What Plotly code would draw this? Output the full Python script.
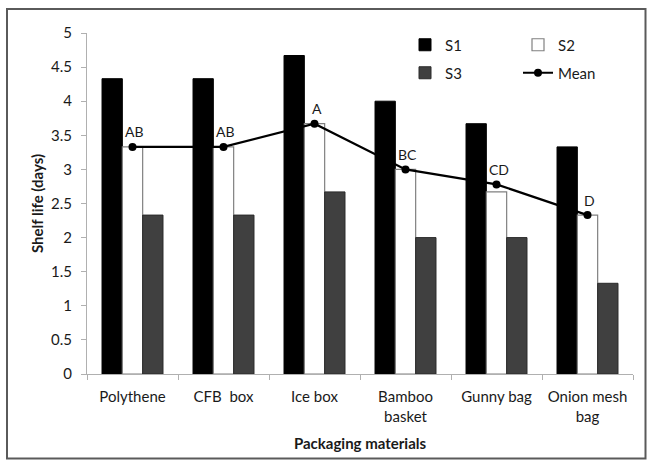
import plotly.graph_objects as go

categories = ["Polythene", "CFB\u00a0 box", "Ice box", "Bamboo<br>basket", "Gunny bag", "Onion mesh<br>bag"]
s1 = [4.33, 4.33, 4.67, 4.00, 3.67, 3.33]
s2 = [3.33, 3.33, 3.67, 3.00, 2.67, 2.33]
s3 = [2.33, 2.33, 2.67, 2.00, 2.00, 1.33]
mean = [3.33, 3.33, 3.67, 3.00, 2.78, 2.33]
letters = ["AB", "AB", "A", "BC", "CD", "D"]
y_ticks = [0, 0.5, 1, 1.5, 2, 2.5, 3, 3.5, 4, 4.5, 5]
y_tick_text = ["0", "0.5", "1", "1.5", "2", "2.5", "3", "3.5", "4", "4.5", "5"]

FONT = "Lato"
TXT = "#1a1a1a"
W, H = 647, 460
L, R, T, B = 87, 14, 33, 86

fig = go.Figure()
fig.add_trace(go.Bar(name="S1", x=categories, y=s1, marker=dict(color="#000000", line=dict(color="#000000", width=1)), legend="legend"))
fig.add_trace(go.Bar(name="S2", x=categories, y=s2, marker=dict(color="#ffffff", line=dict(color="#808080", width=1.2)), legend="legend"))
fig.add_trace(go.Bar(name="S3", x=categories, y=s3, marker=dict(color="#404040", line=dict(color="#2a2a2a", width=1)), legend="legend2"))
fig.add_trace(go.Scatter(name="Mean", x=categories, y=mean, mode="lines+markers",
                         line=dict(color="#000000", width=2.2),
                         marker=dict(color="#000000", size=8), legend="legend2"))

for c, m, t in zip(categories, mean, letters):
    fig.add_annotation(x=c, y=m, text=t, showarrow=False, xshift=2, yshift=15,
                       font=dict(family=FONT, size=14, color=TXT))

pw = W - L - R
ph = H - T - B
def px_x(x):
    return (x - L) / pw
def px_y(y):
    return (H - B - y) / ph

fig.add_shape(type="rect", xref="paper", yref="paper",
              x0=px_x(7), x1=px_x(645.5), y0=px_y(458.5), y1=px_y(9),
              line=dict(color="#5a5a5a", width=2), fillcolor="rgba(0,0,0,0)", layer="below")

legend_common = dict(orientation="h", xanchor="left", yanchor="middle", entrywidth=68,
                     font=dict(family=FONT, size=15, color=TXT), bgcolor="rgba(0,0,0,0)",
                     traceorder="normal")
fig.update_layout(
    width=W, height=H,
    margin=dict(l=L, r=R, t=T, b=B, autoexpand=False),
    paper_bgcolor="white", plot_bgcolor="white",
    barmode="group", bargap=0.33, bargroupgap=0,
    font=dict(family=FONT, size=15, color=TXT),
    legend=dict(x=px_x(405), y=px_y(45), **legend_common),
    legend2=dict(x=px_x(405), y=px_y(73), **legend_common),
    xaxis=dict(showline=True, linecolor="#b0b0b0", linewidth=1, ticks="outside", tickson="boundaries",
               ticklen=5, tickcolor="#b0b0b0", showgrid=False, tickfont=dict(family=FONT, size=15, color=TXT),
               ticklabelstandoff=9,
               title=dict(text="<b>Packaging materials</b>", font=dict(family=FONT, size=15, color=TXT), standoff=14)),
    yaxis=dict(range=[0, 5], tickvals=y_ticks, ticktext=y_tick_text, showline=True, linecolor="#b0b0b0",
               linewidth=1, ticks="outside", ticklen=5, tickcolor="#b0b0b0", showgrid=False, zeroline=False,
               tickfont=dict(family=FONT, size=15, color=TXT), ticklabelstandoff=6,
               title=dict(text="<b>Shelf life (days)</b>", font=dict(family=FONT, size=15, color=TXT), standoff=3)),
)

fig.write_html("out.html", config={"displayModeBar": False},
               post_script="document.body.style.margin='0';")
